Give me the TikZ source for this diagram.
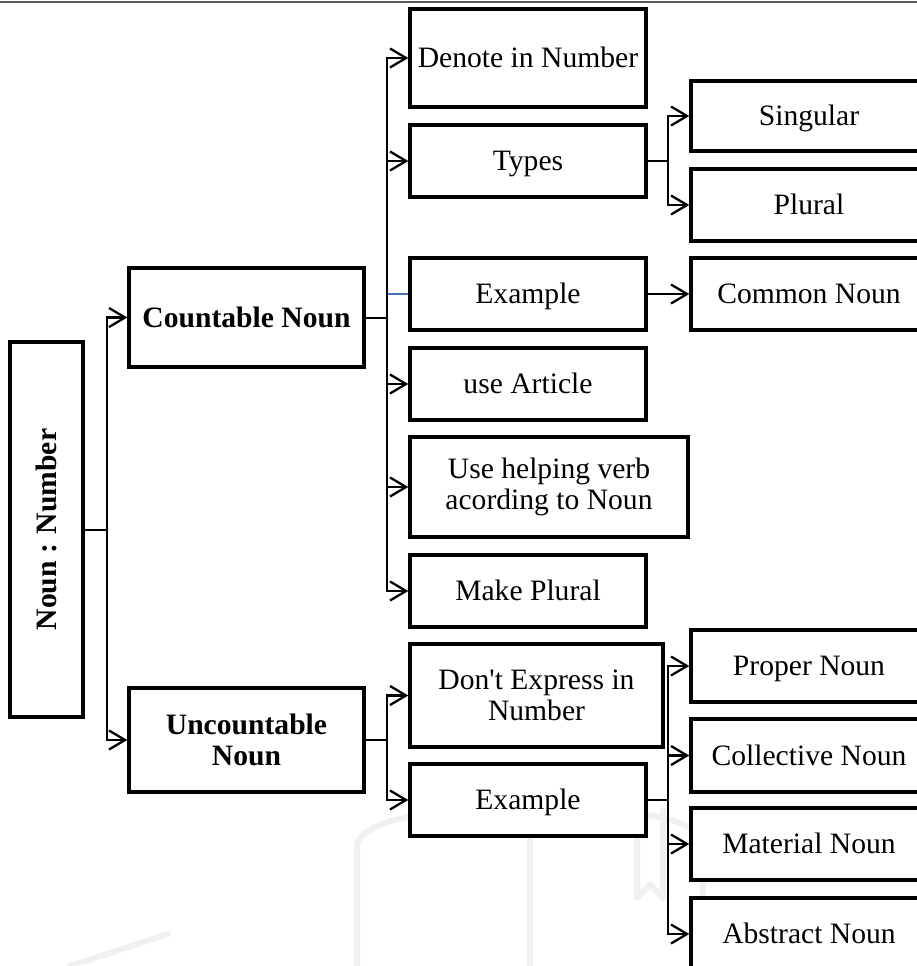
\documentclass[tikz,border=0pt]{standalone}
\usepackage{fontspec}
\setmainfont{Liberation Serif}
\usetikzlibrary{arrows.meta}
\definecolor{wm}{HTML}{F0F0F0}
\definecolor{bluel}{HTML}{4472C4}
\tikzset{
  box/.style={draw, line width=1.7pt, inner sep=0pt, align=center, fill=white,
    font=\fontsize{14.8}{15.5}\selectfont},
  one/.style={text height=13pt, text depth=3.2pt},
  bbox/.style={box, font=\fontsize{14.8}{15.5}\selectfont\bfseries},
  conn/.style={line width=1.15pt},
  arr/.style={line width=1.15pt, -{Straight Barb[length=8pt,width=9.5pt,line width=1.15pt]}},
  wmark/.style={wm, line width=3pt, line cap=round, line join=round}
}
\begin{document}
\begin{tikzpicture}[x=0.5pt,y=-0.5pt]
\useasboundingbox (0,0) rectangle (917,966);
\clip (0,0) rectangle (917,966);
% watermark
\draw[wmark] (357,966) -- (357,845) .. controls (362,815) and (470,800) .. (530,830)
  .. controls (590,800) and (700,812) .. (703,845) -- (703,966);
\draw[wmark] (530,830) -- (530,966);
\draw[wmark] (637,805) -- (637,898) -- (650,884) -- (663,898) -- (663,810);
\draw[wmark] (70,966) -- (168,934);
% top rule
\draw[line width=1pt, black!65] (0,2) -- (917,2);
% nodes
\node[bbox, minimum width=36.5pt, minimum height=187.5pt] (root) at (46.5,529.5) {};
\node[font=\fontsize{14.8}{15.5}\selectfont\bfseries, rotate=90] (roottext) at (root.center) {Noun : Number};
\node[bbox, one, minimum width=117.5pt, minimum height=49.5pt] (count) at (246.5,317.5) {Countable Noun};
\node[bbox, minimum width=117.5pt, minimum height=52pt] (uncount) at (246.5,740) {Uncountable\\Noun};
\node[box, one, minimum width=118pt, minimum height=49pt] (denote) at (528,58) {Denote in Number};
\node[box, one, minimum width=118pt, minimum height=36pt] (types) at (528,161) {Types};
\node[box, one, minimum width=118pt, minimum height=36pt] (exa) at (528,294) {Example};
\node[box, one, minimum width=118pt, minimum height=36pt] (article) at (528,384) {use Article};
\node[box, minimum width=139pt, minimum height=50pt] (helping) at (549,487) {Use helping verb\\acording to Noun};
\node[box, one, minimum width=118pt, minimum height=36pt] (makepl) at (528,591) {Make Plural};
\node[box, minimum width=126.5pt, minimum height=51.5pt] (dont) at (536.5,695.5) {Don\textquotesingle t Express in\\Number};
\node[box, one, minimum width=118pt, minimum height=36pt] (exb) at (528,800) {Example};
\node[box, one, minimum width=118pt, minimum height=35pt] (sing) at (809,116) {Singular};
\node[box, one, minimum width=118pt, minimum height=36pt] (plur) at (809,205) {Plural};
\node[box, one, minimum width=118pt, minimum height=36pt] (common) at (809,294) {Common Noun};
\node[box, one, minimum width=118pt, minimum height=36pt] (proper) at (809,666) {Proper Noun};
\node[box, one, minimum width=118pt, minimum height=36.5pt] (collect) at (809,755.5) {Collective Noun};
\node[box, one, minimum width=118pt, minimum height=36pt] (material) at (809,844) {Material Noun};
\node[box, one, minimum width=118pt, minimum height=36pt] (abstract) at (809,934) {Abstract Noun};
% junction coordinates
\coordinate (j0) at (107,530);
\coordinate (j1) at (387,318);
\coordinate (j2) at (387,740);
\coordinate (j3) at (668,161);
\coordinate (j4) at (668,800);
% connectors
\draw[conn] (root.east |- j0) -- (j0);
\draw[arr] (j0) |- (count.west);
\draw[arr] (j0) |- (uncount.west);
\draw[conn] (count.east |- j1) -- (j1);
\draw[line width=1.15pt, bluel] (j1 |- exa.west) -- (exa.west);
\draw[arr] (j1) |- (denote.west);
\draw[arr] (j1) |- (types.west);
\draw[arr] (j1) |- (article.west);
\draw[arr] (j1) |- (helping.west);
\draw[arr] (j1) |- (makepl.west);
\draw[conn] (types.east |- j3) -- (j3);
\draw[arr] (j3) |- (sing.west);
\draw[arr] (j3) |- (plur.west);
\draw[arr] (exa.east) -- (common.west);
\draw[conn] (uncount.east |- j2) -- (j2);
\draw[arr] (j2) |- (dont.west);
\draw[arr] (j2) |- (exb.west);
\draw[conn] (exb.east |- j4) -- (j4);
\draw[arr] (j4) |- (proper.west);
\draw[arr] (j4) |- (collect.west);
\draw[arr] (j4) |- (material.west);
\draw[arr] (j4) |- (abstract.west);
\end{tikzpicture}
\end{document}
